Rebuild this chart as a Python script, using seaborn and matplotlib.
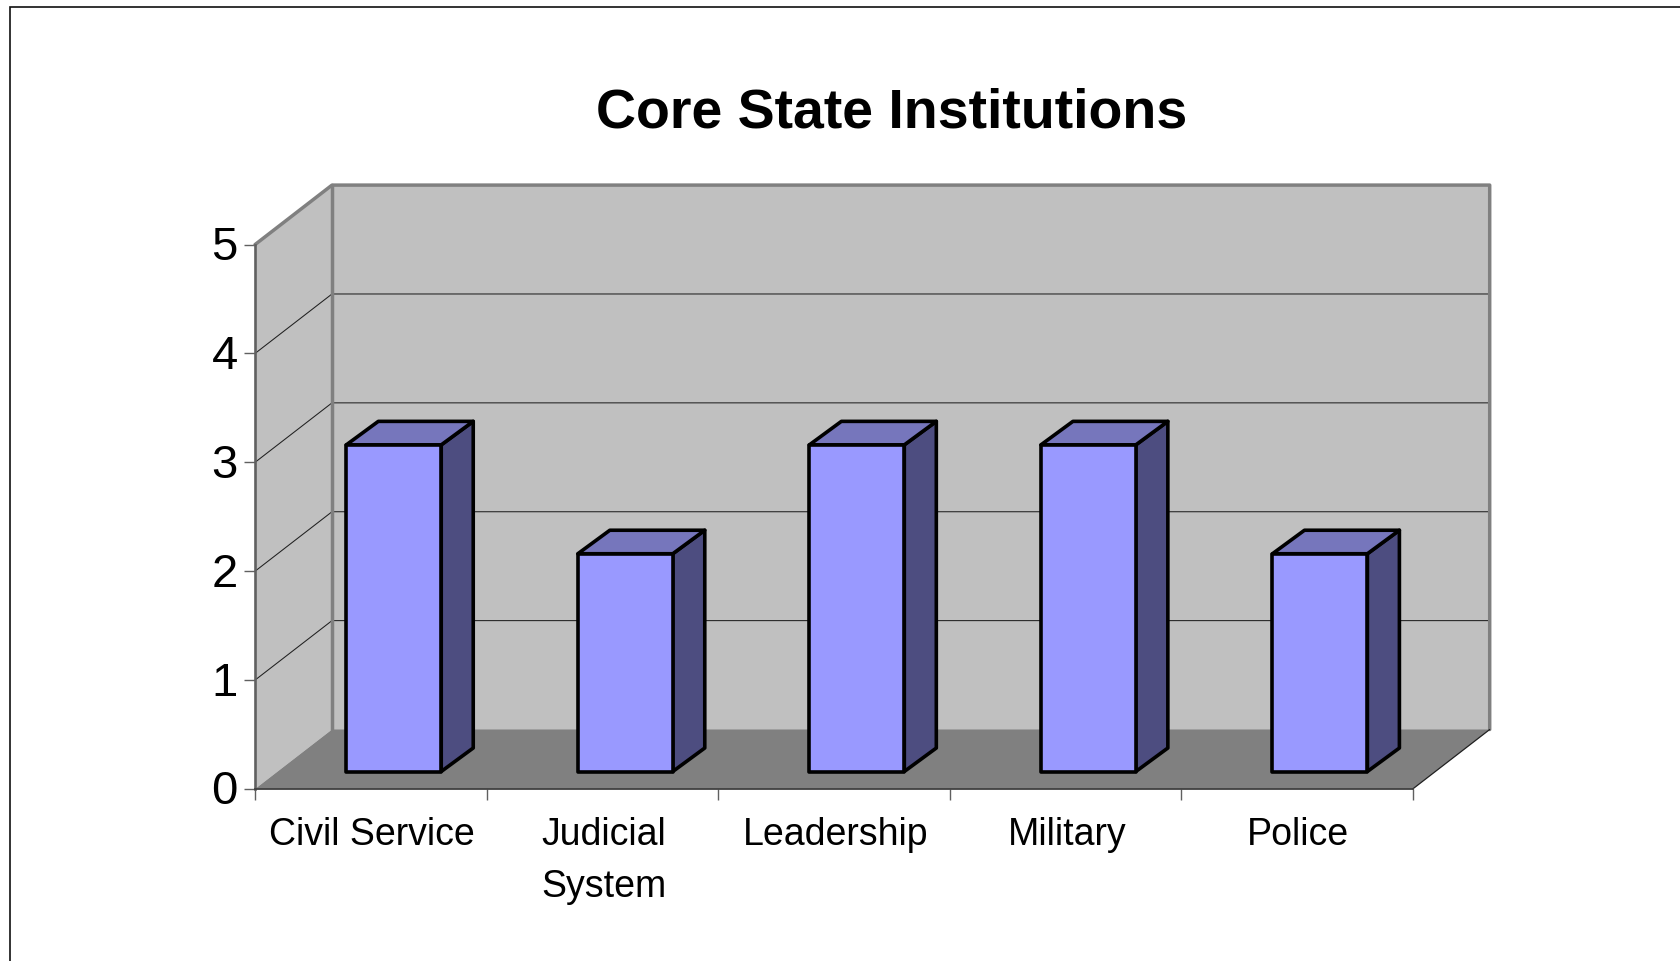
import numpy as np
import pandas as pd
import matplotlib
matplotlib.use("Agg")
import matplotlib.pyplot as plt
from matplotlib.lines import Line2D
from matplotlib.transforms import Affine2D
import seaborn as sns

categories = ["Civil Service", "Judicial\nSystem", "Leadership", "Military", "Police"]
values = [3, 2, 3, 3, 2]
y_ticks = [0, 1, 2, 3, 4, 5]
title = "Core State Institutions"

WALL, FLOOR, EDGE = "#C0C0C0", "#808080", "#808080"
FRONT, TOP, SIDE = "#9999FF", "#7676BC", "#4D4D80"

W, H = 1680, 962
L, R, B, T = 255, 1412.7, 790, 245.6

sns.set_theme(style="white")
plt.rcParams["font.family"] = ["Liberation Sans", "DejaVu Sans"]

fig = plt.figure(figsize=(W / 100, H / 100), dpi=100, facecolor="white")
ax = fig.add_axes([L / W, 1 - B / H, (R - L) / W, (B - T) / H], facecolor="none")

df = pd.DataFrame({"category": categories, "value": values})
sns.barplot(data=df, x="category", y="value", color=FRONT, saturation=1, width=0.41,
            edgecolor="black", linewidth=2.6, ax=ax)

ax.set_xlim(-0.5, len(categories) - 0.5)
ax.set_ylim(0, max(y_ticks))
xl, xr = ax.get_xlim()
yb, yt = ax.get_ylim()

# Depth of the box, in data units
DX = 77.0 / ((R - L) / len(categories))
DY = 59.5 / ((B - T) / max(y_ticks))
poly = dict(clip_on=False)

# Walls and floor
ax.fill([xl, xl + DX, xl + DX, xl], [yb, yb + DY, yt + DY, yt], color=WALL, lw=0, zorder=0.2, **poly)
ax.fill([xl + DX, xr + DX, xr + DX, xl + DX], [yb + DY, yb + DY, yt + DY, yt + DY], color=WALL, lw=0, zorder=0.2, **poly)
ax.fill([xl, xr, xr + DX, xl + DX], [yb, yb, yb + DY, yb + DY], color=FLOOR, lw=0, zorder=0.3, **poly)

# Grid lines
for v in y_ticks[1:-1]:
    ax.plot([xl, xl + DX, xr + DX], [v, v + DY, v + DY], color="#202020", lw=0.75, zorder=0.5, **poly)

# Wall outlines
ax.plot([xl, xl + DX, xr + DX, xr + DX], [yt, yt + DY, yt + DY, yb + DY], color=EDGE, lw=2.5,
        zorder=0.6, solid_joinstyle="round", **poly)
ax.plot([xl + DX, xl + DX], [yb + DY, yt + DY], color=EDGE, lw=2.5, zorder=0.6, **poly)
ax.plot([xr, xr + DX], [yb, yb + DY], color="#202020", lw=0.9, zorder=0.6, **poly)

# 3D bars
OFF_X, OFF_Y = 23 / ((R - L) / len(categories)), 17.5 / ((B - T) / max(y_ticks))
BX, BY = 32 / ((R - L) / len(categories)), 23.5 / ((B - T) / max(y_ticks))
edge = dict(facecolor=None, edgecolor="black", linewidth=2.6, joinstyle="round", clip_on=False, zorder=3)
for p in ax.patches[:len(categories)]:
    if p.get_height() == 0:
        continue
    p.set_x(p.get_x() + OFF_X)
    p.set_y(OFF_Y)
    p.set_zorder(3.5)
    p.set_clip_on(False)
    p.set_joinstyle("round")
    x0, x1 = p.get_x(), p.get_x() + p.get_width()
    y0, y1 = p.get_y(), p.get_y() + p.get_height()
    edge["facecolor"] = SIDE
    ax.fill([x1, x1 + BX, x1 + BX, x1], [y0, y0 + BY, y1 + BY, y1], **edge)
    edge["facecolor"] = TOP
    ax.fill([x0, x1, x1 + BX, x0 + BX], [y1, y1, y1 + BY, y1 + BY], **edge)

# Axes
sns.despine(ax=ax, top=True, right=True)
ax.spines["left"].set_color("#606060")
ax.spines["left"].set_linewidth(1.9)
ax.spines["bottom"].set_color("#404040")
ax.spines["bottom"].set_linewidth(1.3)
ax.set_xlabel("")
ax.set_ylabel("")
ax.set_yticks(y_ticks)
ax.set_xticks(np.arange(len(categories) + 1) - 0.5, labels=[""] * (len(categories) + 1))
ax.set_xticks(np.arange(len(categories)), labels=categories, minor=True)
ax.tick_params(axis="y", which="major", left=True, length=8, width=1, color="#606060",
               labelsize=34, pad=4.5, labelcolor="black")
ax.tick_params(axis="x", which="major", bottom=True, length=8, width=1, color="#606060")
ax.tick_params(axis="x", which="minor", bottom=False, length=0, pad=19.5, labelsize=27, labelcolor="black")
for lab in ax.get_xticklabels(minor=True):
    lab.set_linespacing(1.58)
    lab.set_transform(lab.get_transform() + Affine2D().translate(1.5, 0))
for lab in ax.get_yticklabels():
    lab.set_verticalalignment("center_baseline")
    lab.set_transform(lab.get_transform() + Affine2D().translate(0, 2.5))

fig.text(891.5 / W, 1 - 128 / H, title, fontsize=40, fontweight="bold", color="black",
         ha="center", va="baseline")

# Outer frame
fig.add_artist(Line2D([9.5 / W, 9.5 / W, 1], [0, 1 - 7.5 / H, 1 - 7.5 / H],
                      color="#101010", lw=1.2, solid_joinstyle="miter"))

fig.savefig("out.png", dpi=100)
